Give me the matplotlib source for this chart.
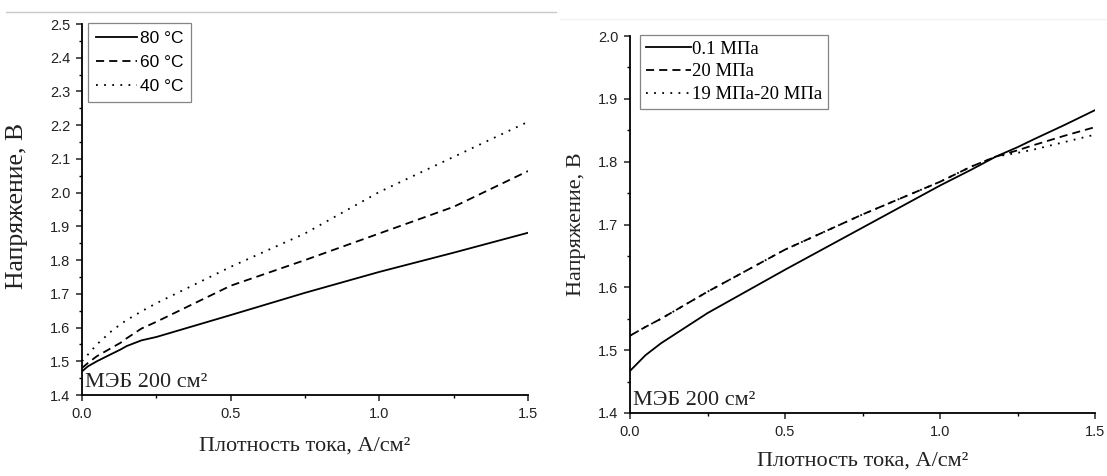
import numpy as np
import matplotlib
matplotlib.use('Agg')
import matplotlib.pyplot as plt
from matplotlib.lines import Line2D
from matplotlib.ticker import MultipleLocator, FormatStrFormatter

# left panel - temperature
j_t = [0.0, 0.02, 0.05, 0.1, 0.13, 0.15, 0.2, 0.25, 0.5, 0.75, 1.0, 1.25, 1.5]
u_80 = [1.47, 1.485, 1.50, 1.522, 1.535, 1.545, 1.562, 1.572, 1.637, 1.703, 1.765, 1.822, 1.881]
u_60 = [1.48, 1.495, 1.515, 1.54, 1.555, 1.568, 1.597, 1.617, 1.724, 1.80, 1.879, 1.958, 2.064]
u_40 = [1.50, 1.52, 1.55, 1.59, 1.61, 1.622, 1.648, 1.672, 1.78, 1.879, 2.002, 2.106, 2.21]
labels_t = ['80 °C', '60 °C', '40 °C']

# right panel - pressure
j_p = [0.0, 0.05, 0.1, 0.25, 0.5, 0.75, 1.0, 1.1, 1.18, 1.25, 1.3, 1.4, 1.5]
u_01 = [1.467, 1.492, 1.511, 1.559, 1.628, 1.695, 1.762, 1.787, 1.808, 1.823, 1.835, 1.858, 1.882]
u_20 = [1.523, 1.537, 1.55, 1.593, 1.66, 1.716, 1.768, 1.792, 1.808, 1.818, 1.826, 1.841, 1.855]
u_19_20 = [1.523, 1.537, 1.55, 1.593, 1.66, 1.716, 1.768, 1.792, 1.808, 1.814, 1.819, 1.831, 1.843]
labels_p = ['0.1 МПа', '20 МПа', '19 МПа-20 МПа']

styles = ['-', (0, (4.5, 2.8)), (0, (1, 3.5))]
sans = 'Liberation Sans'
serif = 'Liberation Serif'
txt = '#222222'

fig = plt.figure(figsize=(11.07, 4.76), dpi=100)

# faint rules at the top of the scan
fig.add_artist(Line2D([6/1107, 556/1107], [1-12/476, 1-12/476], color='#c8c8c8', lw=1))
fig.add_artist(Line2D([560/1107, 1107/1107], [1-19/476, 1-19/476], color='#f3f3f3', lw=1))

ax1 = fig.add_axes([82/1107, 1-395/476, 446/1107, 371/476])
ax2 = fig.add_axes([630/1107, 1-413/476, 465/1107, 377/476])


def style_axes(ax, ylim, ylabel_size):
    ax.set_xlim(0, 1.5)
    ax.set_ylim(*ylim)
    for s in ['top', 'right']:
        ax.spines[s].set_visible(False)
    for s in ['left', 'bottom']:
        ax.spines[s].set_linewidth(1.3)
    ax.xaxis.set_major_locator(MultipleLocator(0.5))
    ax.xaxis.set_minor_locator(MultipleLocator(0.25))
    ax.yaxis.set_major_locator(MultipleLocator(0.1))
    ax.yaxis.set_minor_locator(MultipleLocator(0.05))
    ax.xaxis.set_major_formatter(FormatStrFormatter('%.1f'))
    ax.yaxis.set_major_formatter(FormatStrFormatter('%.1f'))
    ax.tick_params(which='major', direction='out', length=4.5, width=1.1, pad=4,
                   labelsize=10.5, labelfontfamily=sans, colors=txt)
    ax.tick_params(which='minor', direction='out', length=2.5, width=1.0)
    ax.set_xlabel('Плотность тока, А/см²', fontsize=16, family=serif, color=txt)
    ax.set_ylabel('Напряжение, В', fontsize=ylabel_size, family=serif, color=txt)
    ax.text(0.006, 0.008, 'МЭБ 200 см²', transform=ax.transAxes, fontsize=16,
            family=serif, va='bottom', ha='left', color=txt)


style_axes(ax1, (1.4, 2.5), 18.5)
for u, lab, ls in zip([u_80, u_60, u_40], labels_t, styles):
    ax1.plot(j_t, u, color='black', lw=1.3, linestyle=ls, label=lab)
leg1 = ax1.legend(loc='upper left', bbox_to_anchor=(6/446, 1.003), borderaxespad=0,
                  prop={'family': sans, 'size': 12.5}, frameon=True, fancybox=False,
                  edgecolor='#666666', handlelength=2.4, handletextpad=0.15,
                  labelspacing=0.52, borderpad=0.45)
leg1.get_frame().set_linewidth(0.9)
ax1.xaxis.set_label_coords(0.5, -0.113)
ax1.yaxis.set_label_coords(-0.121, 0.51)

style_axes(ax2, (1.4, 2.0), 16)
for u, lab, ls in zip([u_01, u_20, u_19_20], labels_p, styles):
    ax2.plot(j_p, u, color='black', lw=1.3, linestyle=ls, label=lab)
leg2 = ax2.legend(loc='upper left', bbox_to_anchor=(10/465, 1.003), borderaxespad=0,
                  prop={'family': serif, 'size': 13.5}, frameon=True, fancybox=False,
                  edgecolor='#666666', handlelength=2.4, handletextpad=0.1,
                  labelspacing=0.3, borderpad=0.3)
leg2.get_frame().set_linewidth(0.9)
ax2.xaxis.set_label_coords(0.5, -0.103)
ax2.yaxis.set_label_coords(-0.095, 0.5)

fig.savefig('out.png', dpi=100)
